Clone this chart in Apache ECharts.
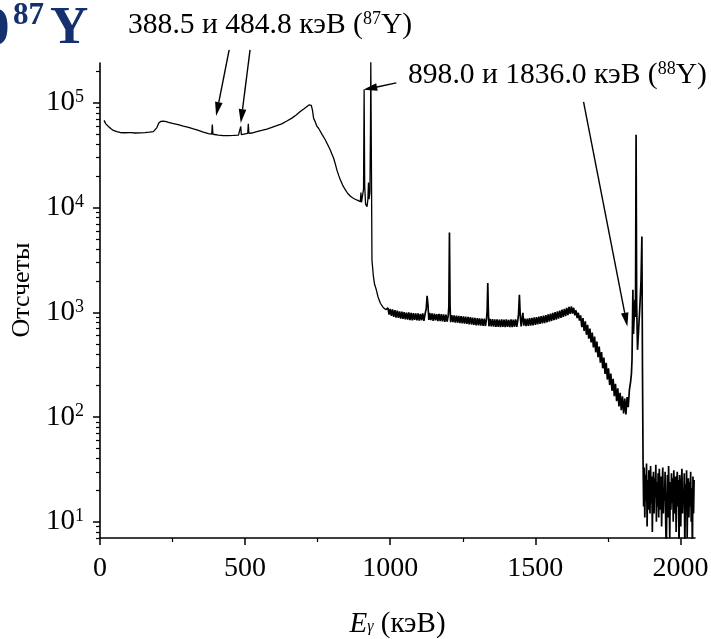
<!DOCTYPE html>
<html><head><meta charset="utf-8">
<script src="https://cdn.jsdelivr.net/npm/echarts@6/dist/echarts.min.js"></script>
<style>html,body{margin:0;padding:0;background:#fff}#c{width:711px;height:639px}</style>
</head><body><div id="c"></div><script>
// ---- data: [energy keV, counts] ----
const smoothSpectrum = [[14,68000],[20,63000],[29,59500],[38,56500],[46,54500],[58,53000],[69,52100],[85,51800],[100,52000],[104,53500],[108,52000],[121,51500],[140,51700],[155,52000],[170,52400],[184,53000],[190,54500],[196,58000],[203,64500],[210,66500],[218,66800],[228,66000],[236,64900],[250,63500],[269,62000],[287,60000],[305,58200],[322,56300],[339,54500],[356,52600],[374,50900],[385,50300],[387,62000],[389,50100],[395,49800],[408,49100],[425,48700],[443,48600],[460,48800],[477,49100],[483,49400],[485,59400],[487,49600],[500,50500],[509,51000],[511,63000],[513,51200],[523,51500],[540,53000],[557,54500],[575,56200],[592,58200],[609,60500],[626,63000],[644,67000],[661,71400],[676,76500],[690,82600],[702,87500],[713,92300],[720,95500],[724,97400],[728,94500],[732,85000],[736,71000],[741,66400],[747,60000],[753,57200],[765,50000],[776,44400],[785,39500],[793,35600],[800,32000],[805,29600],[811,26000],[816,22900],[822,20400],[828,18400],[836,16400],[845,14800],[853,13700],[862,12900],[870,12400],[879,12000],[888,11700],[897,11400],[899,13900],[901,11200],[905,10900],[908,15000],[910,133000],[912,16000],[915,10800],[920,10200],[923,12000],[925,17300],[927,12000],[930,14000],[932,60000],[933,250000],[935,30000],[937,3150],[942,2200],[946,1850],[952,1640],[958,1400],[966,1220],[975,1120],[985,1060]];

const plateauSpectrum = [[992,1100],[996,950],[1000,1080],[1004,925],[1008,1065],[1012,905],[1016,1050],[1020,890],[1024,1035],[1028,885],[1032,1020],[1036,872],[1040,1012],[1044,868],[1048,1005],[1052,855],[1056,990],[1060,850],[1064,996],[1068,842],[1072,985],[1076,838],[1080,982],[1084,845],[1088,975],[1092,836],[1096,978],[1100,832],[1104,968],[1108,840],[1112,975],[1116,828],[1120,965],[1124,1080],[1127,1440],[1130,1180],[1133,845],[1136,985],[1140,842],[1144,975],[1148,830],[1152,970],[1156,838],[1160,962],[1164,826],[1168,968],[1172,822],[1176,958],[1180,818],[1184,955],[1188,812],[1192,952],[1196,815],[1200,940],[1202,1150],[1204,5780],[1206,1180],[1208,805],[1212,942],[1216,808],[1220,935],[1224,798],[1228,930],[1232,795],[1236,925],[1240,790],[1244,918],[1248,782],[1252,915],[1256,780],[1260,908],[1264,775],[1268,902],[1272,768],[1276,898],[1280,765],[1284,890],[1288,758],[1292,885],[1296,752],[1300,882],[1304,750],[1308,875],[1312,746],[1316,870],[1320,742],[1324,868],[1328,740],[1332,875],[1334,1050],[1336,1900],[1338,1020],[1340,735],[1344,865],[1348,732],[1352,860],[1356,728],[1360,858],[1364,726],[1368,855],[1372,725],[1376,852],[1380,722],[1384,856],[1388,724],[1392,850],[1396,720],[1400,855],[1404,726],[1408,848],[1412,722],[1416,854],[1420,720],[1424,852],[1428,728],[1432,858],[1436,724],[1440,860],[1442,960],[1445,1470],[1448,920],[1451,735],[1454,870],[1457,990],[1460,745],[1464,868],[1468,738],[1472,872],[1476,742],[1480,878],[1484,748],[1488,884],[1492,752],[1496,892],[1500,760],[1504,900],[1508,765],[1512,908],[1516,775],[1520,918],[1524,782],[1528,930],[1532,790],[1536,942],[1540,802],[1544,956],[1548,815],[1552,970],[1556,826],[1560,985],[1564,840],[1568,1002],[1572,852],[1576,1020],[1580,870],[1584,1040],[1588,885],[1592,1058],[1596,902],[1600,1080],[1604,920],[1608,1102],[1612,940],[1616,1125],[1620,965],[1624,1140],[1628,970],[1632,1105],[1636,935],[1640,1045],[1644,880],[1648,990],[1652,835],[1656,935],[1660,720],[1664,880],[1668,665],[1672,820],[1676,610],[1680,760],[1684,560],[1688,700],[1692,515],[1696,640],[1700,462],[1704,585],[1708,415],[1712,525],[1716,372],[1720,470],[1724,330],[1728,418],[1732,292],[1736,370],[1740,258],[1744,330],[1748,228],[1752,292],[1756,202],[1760,260],[1764,178],[1768,232],[1772,158],[1776,208],[1780,142],[1784,188],[1788,126],[1792,170],[1796,116],[1800,158],[1804,108],[1808,150],[1812,106],[1816,155],[1820,124],[1824,182],[1828,215],[1831,260],[1833,352],[1836,1640],[1838,620],[1840,640],[1843,1320],[1845,900],[1847,49500],[1849,1200],[1852,438],[1856,700],[1860,1135],[1864,2000],[1867,5300],[1869,300]];

const tailSpectrum = [[1871,39],[1873,14],[1875,33],[1877,11],[1879,28],[1881,16],[1883,36],[1885,9],[1887,25],[1889,13],[1891,31],[1893,18],[1895,12],[1897,34],[1899,15],[1901,27],[1903,8],[1905,22],[1907,30],[1909,12],[1911,26],[1913,17],[1915,35],[1917,10],[1919,24],[1921,14],[1923,29],[1925,11],[1927,32],[1929,19],[1931,13],[1933,27],[1935,9],[1937,23],[1939,33],[1941,12],[1943,21],[1945,16],[1947,30],[1949,10],[1951,5],[1953,14],[1955,28],[1957,11],[1959,34],[1961,17],[1963,7],[1965,24],[1967,13],[1969,29],[1971,15],[1973,26],[1975,10],[1977,31],[1979,18],[1981,12],[1983,27],[1985,8],[1987,22],[1989,30],[1991,14],[1993,25],[1995,5],[1997,28],[1999,16],[2001,9],[2003,24],[2005,32],[2007,12],[2009,20],[2011,15],[2013,29],[2015,5],[2017,23],[2019,13],[2021,31],[2023,7],[2025,19],[2027,26],[2029,11],[2031,24],[2033,14],[2035,30],[2037,10],[2039,21],[2041,5],[2043,27],[2045,12],[2047,25]];

// axis ticks and labels
const xTickValues = [0, 500, 1000, 1500, 2000];
const xMinorTickValues = [250, 750, 1250, 1750];
const yDecadeExponents = [1, 2, 3, 4, 5];
const yMinorMultipliers = [2, 3, 4, 5, 6, 7, 8, 9];
const xRange = [0, 2050];
const yRange = [7, 240000];

// annotation arrows in data space: [from, to]
const arrowLines = [
  [[445, 320000], [400, 75000]],
  [[517, 320000], [485, 64000]],
  [[1021, 155000], [907, 133000]],
  [[1666, 102000], [1817, 730]]
];

// ---- chart ----
const FONT = 'Liberation Serif';
const NAVY = '#15306e';
const noisyPart = [smoothSpectrum[smoothSpectrum.length - 1]].concat(plateauSpectrum, tailSpectrum);
const yLogMin = Math.log10(yRange[0]), yLogMax = Math.log10(yRange[1]);
const yMinorLog = [];
[0, 1, 2, 3, 4, 5].forEach(function (e) {
  yMinorMultipliers.forEach(function (m) {
    const v = Math.log10(m) + e;
    if (v >= yLogMin && v <= yLogMax) yMinorLog.push(v);
  });
});

const chart = echarts.init(document.getElementById('c'), null, {renderer: 'canvas'});
const majorTickLine = {color: '#000', width: 1.5};
const minorTickLine = {color: '#000', width: 1.2};
const option = {
  animation: false,
  backgroundColor: '#fff',
  grid: {left: 100, right: 16, top: 63, bottom: 101, containLabel: false, outerBoundsMode: 'none'},
  xAxis: [
    {
      type: 'value', min: xRange[0], max: xRange[1], position: 'bottom',
      axisLine: {show: true, onZero: false, lineStyle: {color: '#000', width: 1.6}},
      axisTick: {show: true, inside: false, length: 7, customValues: xTickValues, lineStyle: majorTickLine},
      axisLabel: {customValues: xTickValues, color: '#000', fontFamily: FONT, fontSize: 28, margin: 17,
        formatter: function (v) { return String(v); }},
      splitLine: {show: false},
      name: '{i|E}{g|γ}{n| (кэВ)}', nameLocation: 'middle', nameGap: 72,
      nameTextStyle: {
        color: '#000', fontFamily: FONT, fontSize: 29,
        rich: {
          i: {fontFamily: FONT, fontSize: 29, fontStyle: 'italic', color: '#000', padding: [0, 0, 5, 0]},
          g: {fontFamily: FONT, fontSize: 16, fontStyle: 'italic', color: '#000'},
          n: {fontFamily: FONT, fontSize: 29, color: '#000', padding: [0, 0, 5, 0]}
        }
      }
    },
    {
      type: 'value', min: xRange[0], max: xRange[1], position: 'bottom',
      axisLine: {show: false, onZero: false},
      axisTick: {show: true, inside: false, length: 4, customValues: xMinorTickValues, lineStyle: minorTickLine},
      axisLabel: {show: false}, splitLine: {show: false}
    }
  ],
  yAxis: [
    {
      type: 'log', logBase: 10, min: yRange[0], max: yRange[1], position: 'left',
      axisLine: {show: true, onZero: false, lineStyle: {color: '#000', width: 1.6}},
      axisTick: {show: false}, axisLabel: {show: false}, splitLine: {show: false}
    },
    {
      type: 'value', min: yLogMin, max: yLogMax, position: 'left',
      axisLine: {show: false, onZero: false},
      axisTick: {show: true, inside: false, length: 7, customValues: yDecadeExponents, lineStyle: majorTickLine},
      axisLabel: {
        customValues: yDecadeExponents, margin: 16,
        formatter: function (v) { return '{b|10}{s|' + Math.round(v) + '}'; },
        rich: {
          b: {fontFamily: FONT, fontSize: 29, color: '#000'},
          s: {fontFamily: FONT, fontSize: 18, color: '#000', verticalAlign: 'top'}
        }
      },
      splitLine: {show: false},
      name: 'Отсчеты', nameLocation: 'middle', nameGap: 59,
      nameTextStyle: {color: '#000', fontFamily: FONT, fontSize: 26, padding: [0, 0, 0, 21]}
    },
    {
      type: 'value', min: yLogMin, max: yLogMax, position: 'left',
      axisLine: {show: false, onZero: false},
      axisTick: {show: true, inside: false, length: 4, customValues: yMinorLog, lineStyle: minorTickLine},
      axisLabel: {show: false}, splitLine: {show: false}
    }
  ],
  series: [
    {
      name: 'smooth', type: 'line', xAxisIndex: 0, yAxisIndex: 0, data: smoothSpectrum,
      showSymbol: false, symbol: 'none', clip: true,
      lineStyle: {color: '#000', width: 1.3}, z: 3
    },
    {
      name: 'noisy', type: 'line', xAxisIndex: 0, yAxisIndex: 0, data: noisyPart,
      showSymbol: false, symbol: 'none', clip: true,
      lineStyle: {color: '#000', width: 1.7}, z: 3
    }
  ]
};
chart.setOption(option);

// texts and arrows (arrow ends converted from data space)
const textStyleBase = {fontFamily: FONT, fontSize: 29.6, fill: '#000', align: 'left', verticalAlign: 'top'};
const graphics = [
  {type: 'text', x: -17, y: 3.5, style: {text: '0', fontFamily: FONT, fontSize: 53, fontWeight: 'bold', fill: NAVY, verticalAlign: 'top'}},
  {type: 'text', x: 13, y: 0, style: {text: '87', fontFamily: FONT, fontSize: 31, fontWeight: 'bold', fill: NAVY, verticalAlign: 'top'}},
  {type: 'text', x: 50, y: 2.7, style: {text: 'Y', fontFamily: FONT, fontSize: 53, fontWeight: 'bold', fill: NAVY, verticalAlign: 'top'}},
  {type: 'text', x: 128, y: 10, style: Object.assign({}, textStyleBase, {
    text: '388.5 и 484.8 кэВ ({s|87}Y)',
    rich: {s: {fontFamily: FONT, fontSize: 18, fill: '#000', verticalAlign: 'top'}}
  })},
  {type: 'text', x: 408, y: 60, style: Object.assign({}, textStyleBase, {
    text: '898.0 и 1836.0 кэВ ({s|88}Y)',
    rich: {s: {fontFamily: FONT, fontSize: 18, fill: '#000', verticalAlign: 'top'}}
  })}
];
arrowLines.forEach(function (a) {
  const p0 = chart.convertToPixel({seriesIndex: 0}, a[0]);
  const p1 = chart.convertToPixel({seriesIndex: 0}, a[1]);
  const dx = p1[0] - p0[0], dy = p1[1] - p0[1];
  const len = Math.sqrt(dx * dx + dy * dy);
  const ux = dx / len, uy = dy / len;
  const headLen = 14, headHalf = 3.8;
  const bx = p1[0] - ux * headLen, by = p1[1] - uy * headLen;
  graphics.push({type: 'line', shape: {x1: p0[0], y1: p0[1], x2: bx, y2: by}, style: {stroke: '#000', lineWidth: 1.4}, z: 10});
  graphics.push({type: 'polygon', shape: {points: [[p1[0], p1[1]], [bx - uy * headHalf, by + ux * headHalf], [bx + uy * headHalf, by - ux * headHalf]]}, style: {fill: '#000'}, z: 10});
});
chart.setOption({graphic: graphics});
</script></body></html>
